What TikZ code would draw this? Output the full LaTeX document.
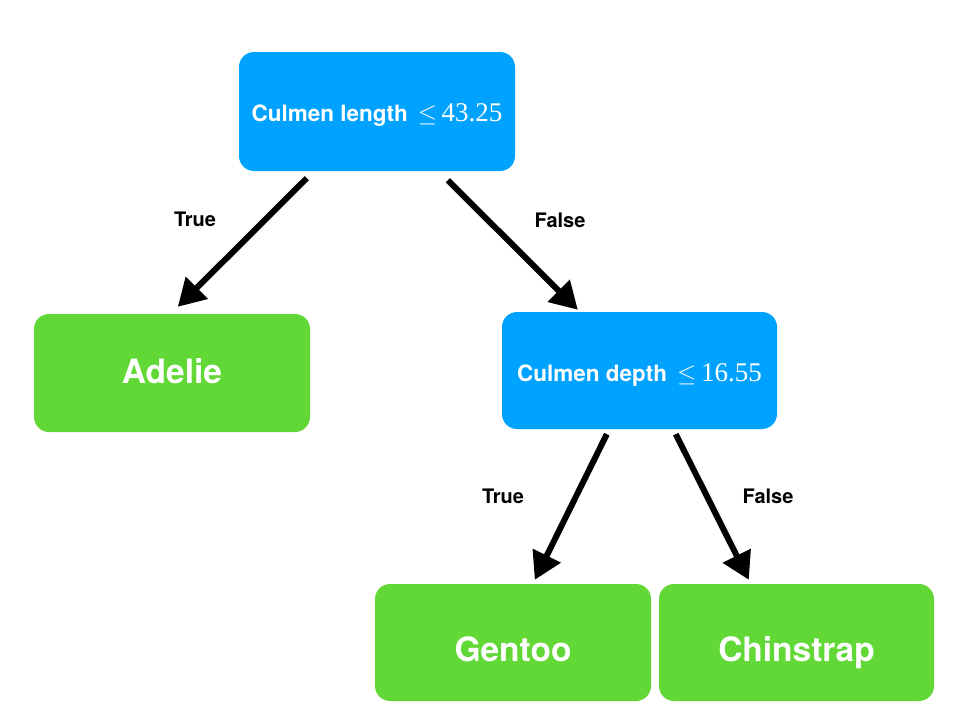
\documentclass[tikz,border=0pt]{standalone}
\usepackage{fontspec}
\setmainfont{TeX Gyre Heros}
\newfontfamily\tms{Liberation Serif}
\usetikzlibrary{arrows.meta,calc}
\definecolor{boxblue}{RGB}{0,162,255}
\definecolor{boxgreen}{RGB}{97,216,54}
\tikzset{
  split/.style={rectangle,rounded corners=15pt,fill=boxblue,text=white,
    font=\fontsize{22.5}{26}\selectfont\bfseries,inner sep=0pt,text depth=0pt},
  leaf/.style={rectangle,rounded corners=15pt,fill=boxgreen,text=white,
    font=\fontsize{33.5}{38}\selectfont\bfseries,inner sep=0pt,text depth=0pt},
  edgelabel/.style={text=black,font=\fontsize{20}{24}\selectfont\bfseries,inner sep=0pt},
  conn/.style={line width=6pt,-{Triangle[length=27pt,width=30pt]}}
}
\newcommand{\thr}[1]{\hspace{0.45em}{\tms\mdseries\fontsize{27}{30}\selectfont$\leq$\,#1}}
\begin{document}
\begin{tikzpicture}[x=1pt,y=-1pt]
\useasboundingbox (0,0) rectangle (953,715);
\node[split,minimum width=276pt,minimum height=119pt,text height=19pt] (root) at (377,111.5) {Culmen length\thr{43.25}};
\node[split,minimum width=275pt,minimum height=117pt,text height=21pt] (dnode) at (639.5,370.5) {Culmen depth\thr{16.55}};
\node[leaf,minimum width=276pt,minimum height=118pt,text height=20pt] (adelie) at (172,373) {Adelie};
\node[leaf,minimum width=276pt,minimum height=117pt,text height=37pt] (gentoo) at (513,642.5) {Gentoo};
\node[leaf,minimum width=275pt,minimum height=117pt,text height=37pt] (chin) at (796.5,642.5) {Chinstrap};
\draw[conn] ($(root.south west)+(68,7)$) -- ($(adelie.north west)+(144,-7)$);
\draw[conn] ($(root.south west)+(209,9)$) -- ($(dnode.north west)+(76,-2)$);
\draw[conn] ($(dnode.south west)+(105,5)$) -- ($(gentoo.north west)+(160,-4)$);
\draw[conn] ($(dnode.south west)+(174,5)$) -- ($(chin.north west)+(90,-4)$);
\node[edgelabel] (t1) at (195,219) {True};
\node[edgelabel] (f1) at (560,220) {False};
\node[edgelabel] (t2) at (503,496) {True};
\node[edgelabel] (f2) at (768,496) {False};
\end{tikzpicture}
\end{document}
